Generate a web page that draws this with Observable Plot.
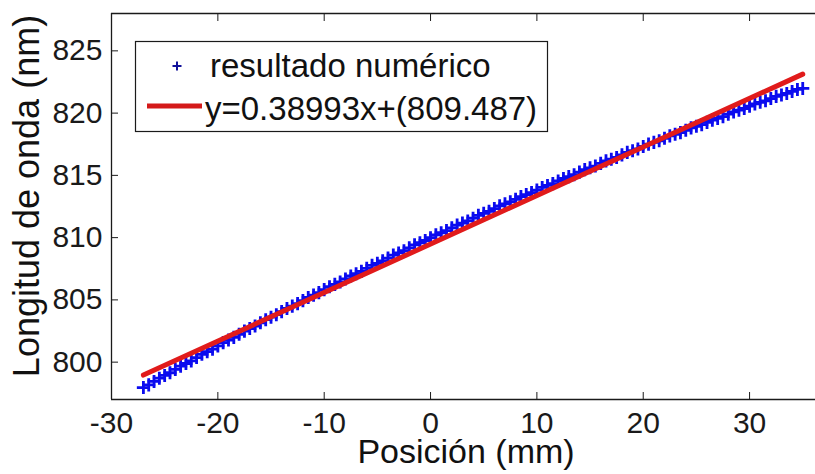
<!DOCTYPE html>
<html><head><meta charset="utf-8">
<script src="https://cdn.jsdelivr.net/npm/d3@7"></script>
<script src="https://cdn.jsdelivr.net/npm/@observablehq/plot@0.6"></script>
<style>html,body{margin:0;padding:0;background:#fff;} #chart{position:relative;width:815px;height:474px;}</style>
</head><body><div id="chart"></div>
<script>
// Posición (mm), sampled every 0.5 mm from -27 to 35
const posicion = d3.range(-27, 35.25, 0.5);
// Longitud de onda (nm) — resultado numérico
const longitud = [
797.96,798.17,798.45,798.71,798.93,799.15,799.42,799.68,799.89,800.10,
800.37,800.63,800.84,801.05,801.31,801.57,801.78,801.99,802.24,802.49,
802.70,802.90,803.16,803.41,803.61,803.81,804.06,804.31,804.50,804.70,
804.94,805.19,805.38,805.58,805.82,806.06,806.25,806.44,806.68,806.92,
807.10,807.29,807.53,807.77,807.94,808.13,808.36,808.60,808.77,808.95,
809.18,809.42,809.59,809.77,809.99,810.22,810.39,810.56,810.78,811.01,
811.17,811.34,811.56,811.79,811.95,812.11,812.33,812.55,812.71,812.87,
813.08,813.30,813.45,813.61,813.82,814.03,814.19,814.34,814.55,814.75,
814.90,815.05,815.26,815.46,815.61,815.75,815.96,816.16,816.30,816.44,
816.65,816.85,816.98,817.12,817.32,817.51,817.65,817.78,817.98,818.17,
818.30,818.43,818.62,818.81,818.94,819.07,819.26,819.44,819.58,819.72,
819.92,820.10,820.24,820.37,820.56,820.74,820.87,820.99,821.17,821.34,
821.46,821.58,821.74,821.90,821.98
];
// Ajuste lineal (end points)
const ajusteX = [-27, 35];
const ajusteY = [798.96, 823.13];
const xTicks = [-30, -20, -10, 0, 10, 20, 30];
const yTicks = [800, 805, 810, 815, 820, 825];
const leyenda = ["resultado numérico", "y=0.38993x+(809.487)"];
const xLabel = "Posición (mm)";
const yLabel = "Longitud de onda (nm)";

const datos = posicion.map((x, i) => ({x, y: longitud[i]}));
const ajuste = ajusteX.map((x, i) => ({x, y: ajusteY[i]}));

const FONT = "'Liberation Sans', Arial, Helvetica, sans-serif";
const AX = "#1a1a1a";
const BLUE = "#0b0bef";
const RED = "#e11b1b";

const plot = Plot.plot({
  width: 815, height: 474,
  marginLeft: 111, marginRight: 0, marginTop: 13, marginBottom: 75,
  style: {fontFamily: FONT, fontSize: "30px", color: AX, background: "#fff", overflow: "visible"},
  x: {domain: [-30, 36.2]},
  y: {domain: [797, 828]},
  marks: [
    Plot.dot(datos, {x: "x", y: "y", symbol: "plus", r: 4.3, stroke: BLUE, strokeWidth: 2.8}),
    Plot.line(ajuste, {x: "x", y: "y", stroke: RED, strokeWidth: 5}),
    Plot.ruleY([797], {stroke: AX, strokeWidth: 1.3}),
    Plot.ruleY([828], {stroke: AX, strokeWidth: 1.3}),
    Plot.ruleX([-30], {stroke: AX, strokeWidth: 1.3}),
    Plot.axisX({ticks: xTicks, tickSize: -7, tickPadding: 19, label: null, tickFormat: d => String(d), stroke: AX}),
    Plot.axisX({anchor: "top", ticks: xTicks, tickSize: -7, label: null, tickFormat: () => "", stroke: AX}),
    Plot.axisY({ticks: yTicks, tickSize: -7, tickPadding: 16, label: null, tickFormat: d => String(d), stroke: AX})
  ]
});
document.getElementById("chart").appendChild(plot);

const svg = d3.select(plot);
// Legend
const g = svg.append("g").attr("font-family", FONT).attr("font-size", 33).attr("fill", "#111")
  .attr("text-anchor", "start");
g.append("rect").attr("x", 135.5).attr("y", 41.5).attr("width", 412).attr("height", 90)
  .attr("fill", "#fff").attr("stroke", AX).attr("stroke-width", 1.2);
g.append("path").attr("d", "M172.5,66H181.5M177,61.5V70.5").attr("stroke", "#10109a").attr("stroke-width", 2);
g.append("text").attr("x", 210).attr("y", 77).attr("text-anchor", "start").text(leyenda[0]);
g.append("line").attr("x1", 147).attr("x2", 202).attr("y1", 106).attr("y2", 106)
  .attr("stroke", "#d41a1a").attr("stroke-width", 5);
g.append("text").attr("x", 205).attr("y", 120).attr("text-anchor", "start").text(leyenda[1]);
// Axis labels
svg.append("text").attr("x", 466).attr("y", 463).attr("text-anchor", "middle")
  .attr("font-family", FONT).attr("font-size", 34).attr("fill", "#111").text(xLabel);
svg.append("text").attr("transform", "translate(39,196) rotate(-90)").attr("text-anchor", "middle")
  .attr("font-family", FONT).attr("font-size", 36).attr("fill", "#111").text(yLabel);
</script>
</body></html>
